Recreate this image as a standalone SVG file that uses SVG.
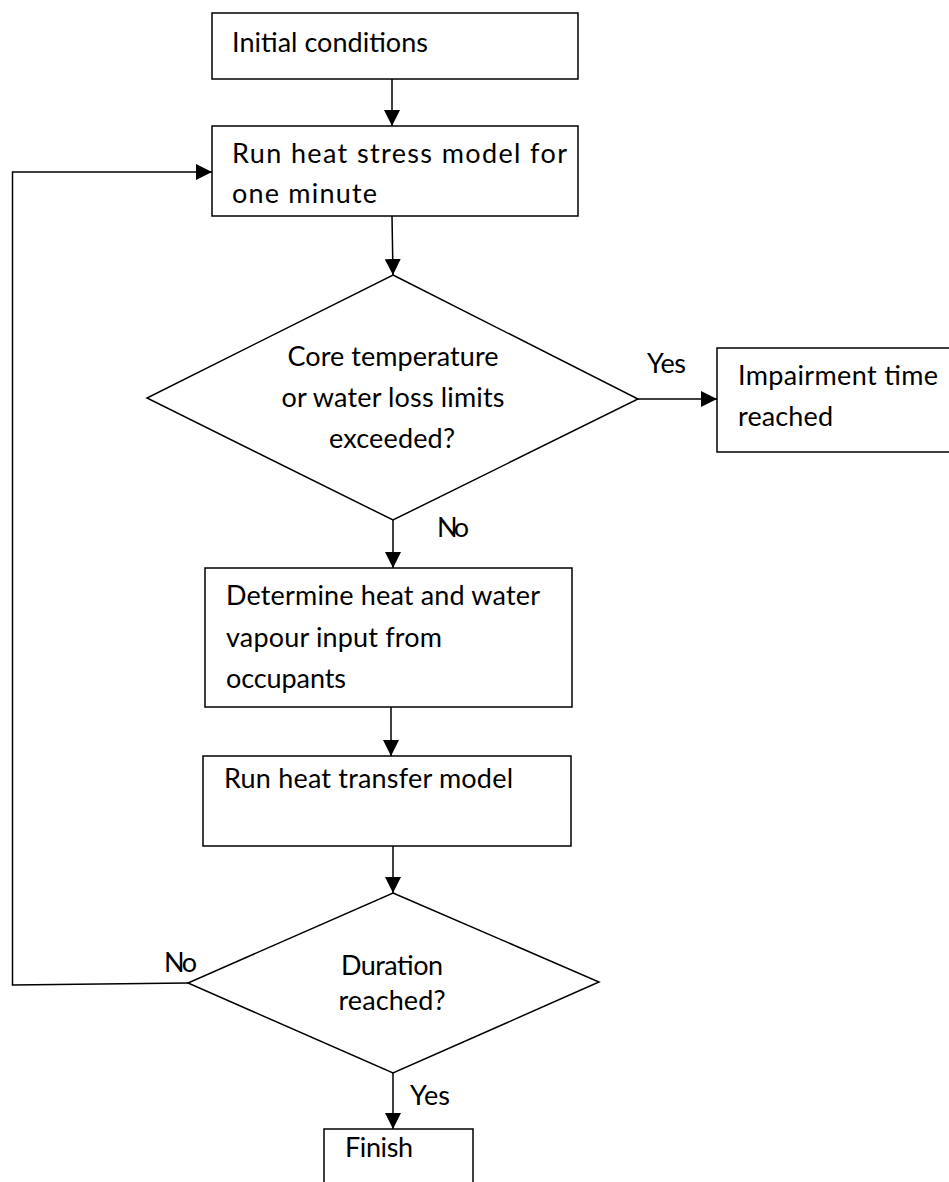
<svg xmlns="http://www.w3.org/2000/svg" width="949" height="1182" viewBox="0 0 949 1182">
<style>
.box{fill:#fff;stroke:#000;stroke-width:1.5}
.t{font-family:Lato,"Liberation Sans",sans-serif;font-size:27px;fill:#000}
.c{text-anchor:middle}
.ln{fill:none;stroke:#000;stroke-width:1.5}
</style>
<defs>
<marker id="ah" viewBox="0 0 16 16" refX="16" refY="8" markerWidth="16" markerHeight="16" markerUnits="userSpaceOnUse" orient="auto">
<path d="M0,0 L16,8 L0,16 Z" fill="#000"/>
</marker>
</defs>
<rect width="949" height="1182" fill="#fff"/>
<g id="connectors">
<line class="ln" x1="392" y1="79" x2="392" y2="126" marker-end="url(#ah)"/>
<line class="ln" x1="392" y1="216" x2="393" y2="275" marker-end="url(#ah)"/>
<line class="ln" x1="638" y1="399" x2="717" y2="399" marker-end="url(#ah)"/>
<line class="ln" x1="393" y1="520" x2="393" y2="568" marker-end="url(#ah)"/>
<line class="ln" x1="391" y1="707" x2="391" y2="756" marker-end="url(#ah)"/>
<line class="ln" x1="393" y1="846" x2="393" y2="893" marker-end="url(#ah)"/>
<line class="ln" x1="393" y1="1073" x2="393" y2="1129" marker-end="url(#ah)"/>
<polyline class="ln" points="188,983 12.5,985 12.5,172 212,172" marker-end="url(#ah)"/>
<text class="t" x="647" y="373" textLength="39">Yes</text>
<text class="t" x="437" y="537" textLength="32">No</text>
<text class="t" x="164" y="972" textLength="33">No</text>
<text class="t" x="410" y="1105" textLength="40">Yes</text>
</g>
<g id="initial">
<rect class="box" x="212" y="13" width="366" height="66"/>
<text class="t" x="232" y="52" textLength="196">Initial conditions</text>
</g>
<g id="heatstress">
<rect class="box" x="212" y="126" width="366" height="90"/>
<text class="t" x="232" y="163" textLength="335">Run heat stress model for</text>
<text class="t" x="232" y="203" textLength="145">one minute</text>
</g>
<g id="decision1">
<polygon class="box" points="393,275 638,399 393,520 147,398"/>
<text class="t c" x="393" y="366" textLength="211">Core temperature</text>
<text class="t c" x="393" y="407" textLength="223">or water loss limits</text>
<text class="t c" x="392" y="448" textLength="126">exceeded?</text>
</g>
<g id="impairment">
<rect class="box" x="717" y="348" width="260" height="104"/>
<text class="t" x="738" y="385" textLength="200">Impairment time</text>
<text class="t" x="738" y="426" textLength="95">reached</text>
</g>
<g id="determine">
<rect class="box" x="205" y="568" width="367" height="139"/>
<text class="t" x="226" y="605" textLength="314">Determine heat and water</text>
<text class="t" x="226" y="647" textLength="216">vapour input from</text>
<text class="t" x="226" y="688" textLength="120">occupants</text>
</g>
<g id="heattransfer">
<rect class="box" x="203" y="756" width="368" height="90"/>
<text class="t" x="224" y="788" textLength="289">Run heat transfer model</text>
</g>
<g id="decision2">
<polygon class="box" points="393,893 599,982 393,1073 188,983"/>
<text class="t c" x="392" y="975" textLength="102">Duration</text>
<text class="t c" x="392" y="1010" textLength="107">reached?</text>
</g>
<g id="finish">
<rect class="box" x="324" y="1129" width="149" height="80"/>
<text class="t" x="345" y="1157" textLength="68">Finish</text>
</g>
</svg>
